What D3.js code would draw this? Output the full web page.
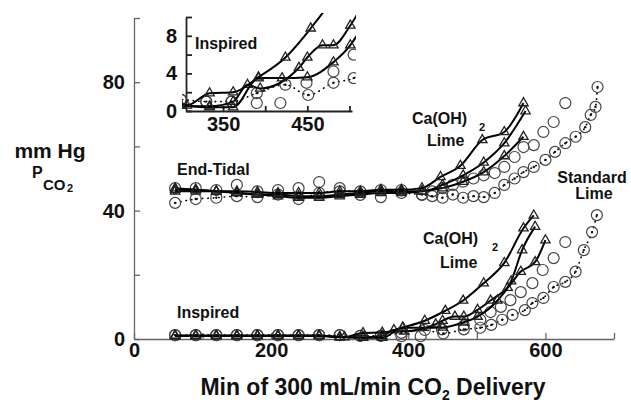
<!DOCTYPE html>
<html>
<head>
  <meta charset="utf-8"/>
  <style>
    body { margin: 0; background: #fff; }
    svg { background-color: #fff; }
    text { font-family: "Liberation Sans", Arial, sans-serif; font-weight: bold; fill: #111; }
  </style>
</head>
<body>
  <div id="chart"></div>
  <script src="https://d3js.org/d3.v7.min.js"></script>
  <script>
    // End-tidal PCO2, Ca(OH)2 lime runs (triangles, solid lines)
    const etCaA_x = [60, 90, 120, 150, 180, 210, 240, 270, 300, 330, 360, 390, 420, 447, 476, 508, 540, 568];
    const etCaA_y = [46.5, 46.5, 46, 46, 45.8, 45.5, 45.5, 45.5, 46, 46, 46.5, 46.5, 47, 50.5, 54, 62, 64.5, 73.5];
    const etCaB_x = [60, 90, 120, 150, 180, 210, 240, 270, 300, 330, 360, 390, 420, 450, 480, 510, 540, 571];
    const etCaB_y = [46, 46, 46, 45.5, 45, 45, 44.5, 44.5, 45, 45.5, 46, 46, 46, 48, 51, 55, 61, 71];
    const etCaC_x = [60, 90, 120, 150, 180, 210, 240, 270, 300, 330, 360, 390, 420, 450, 480, 510, 540, 568];
    const etCaC_y = [47, 46.5, 46, 45.5, 45, 44.5, 44, 44, 44.5, 45, 45.5, 45.5, 46, 47, 49, 52, 57, 63];

    // End-tidal PCO2, standard lime runs (circles)
    const etStdA_x = [60, 90, 120, 150, 180, 210, 240, 270, 300, 330, 360, 390, 420, 435, 450, 465, 480, 495, 510, 526, 540, 555, 568, 583, 597, 612, 629];
    const etStdA_y = [47, 47, 46.4, 48, 46, 46.4, 47, 48.9, 47, 44.9, 44.2, 46.4, 44.9, 46, 47, 48, 49, 50, 51, 51.7, 53.6, 56.7, 59.8, 60.4, 64.5, 67.6, 73.5];
    const etStdB_x = [60, 90, 120, 150, 180, 210, 240, 270, 300, 330, 360, 390, 420, 435, 450, 465, 480, 495, 510, 526, 540, 555, 568, 583, 600, 614, 629, 644, 658, 666, 673, 676];
    const etStdB_y = [42.4, 43.6, 44, 44.5, 44.2, 45, 43.6, 45.5, 46, 46, 46.4, 45.5, 45, 44.5, 44, 45, 44, 44.5, 44.2, 45.5, 48, 50, 52, 53.6, 55.8, 58.3, 61, 63, 66, 69.8, 72.3, 78.5];

    // Inspired PCO2, Ca(OH)2 lime runs
    const inCaA_x = [60, 90, 120, 150, 180, 210, 240, 270, 307, 334, 362, 392, 424, 454, 480, 510, 540, 568, 583];
    const inCaA_y = [1, 1, 1, 1, 1, 1, 1, 1, 0.6, 1.9, 2.0, 3.6, 5.7, 8.8, 12, 17.4, 23.7, 34.5, 38.5];
    const inCaB_x = [60, 90, 120, 150, 180, 210, 240, 270, 300, 334, 362, 392, 420, 450, 481, 501, 530, 550, 566, 585];
    const inCaB_y = [1, 1, 1, 1, 1, 1, 1, 1, 0.6, 0.4, 0.4, 3.5, 3.5, 3.6, 5.2, 7, 12, 18, 27.7, 35];
    const inCaC_x = [60, 90, 120, 150, 180, 210, 240, 270, 300, 334, 362, 379, 394, 440, 450, 468, 481, 501, 520, 545, 564, 585, 600];
    const inCaC_y = [1, 1, 1, 1, 1, 1, 1, 1, 0.6, 0.5, 1.0, 2.8, 2.4, 4.6, 5.7, 7, 7, 9.1, 12, 16, 21, 24, 30.8];

    // Inspired PCO2, standard lime runs
    const inStdA_x = [60, 90, 120, 150, 180, 210, 240, 270, 300, 330, 360, 390, 418, 449, 481, 505, 520, 535, 549, 564, 581, 596, 612, 629];
    const inStdA_y = [1.2, 1.2, 1.2, 1.2, 1.2, 1.2, 1.2, 1.2, 1.2, 1, 1, 0.85, 0.85, 3, 4.2, 6, 8.4, 10, 12.1, 14.6, 17.4, 21.5, 25.2, 30.2];
    const inStdB_x = [60, 90, 120, 150, 180, 210, 240, 270, 300, 330, 360, 390, 424, 451, 481, 505, 521, 537, 552, 570, 581, 597, 612, 629, 644, 656, 668, 675];
    const inStdB_y = [1.2, 1.2, 1.2, 1.2, 1.2, 1.2, 1.2, 1.2, 1.2, 1, 1, 1.9, 2.8, 1.7, 3, 3.5, 4.4, 6, 7.5, 9, 11.2, 12.8, 16.2, 17.8, 21, 27.7, 33.3, 38.6];

    // tick labels
    const xTicks = [0, 100, 200, 300, 400, 500, 600, 700];
    const xLabels = [0, 200, 400, 600];
    const yTicks = [0, 20, 40, 60, 80, 100];
    const yLabels = [0, 40, 80];
    const insetXTicks = [350, 400, 450, 500];
    const insetXLabels = [350, 450];
    const insetYTicks = [0, 2, 4, 6, 8, 10];
    const insetYLabels = [0, 4, 8];

    const width = 631, height = 403;

    let svg = d3.select('#chart')
        .append('svg')
        .attr('width', width)
        .attr('height', height);

    let x = d3.scaleLinear().domain([0, 700]).range([134, 614]);
    let y = d3.scaleLinear().domain([0, 100]).range([339, 18]);

    let xi = d3.scaleLinear().domain([306, 503]).range([186, 352]);
    let yi = d3.scaleLinear().domain([0, 10]).range([111, 17]);

    // main axes
    let gx = svg.append('g')
        .attr('transform', 'translate(0,' + y(0) + ')')
        .call(d3.axisBottom(x).tickValues(xTicks).tickSizeInner(-6).tickSizeOuter(0).tickPadding(4)
            .tickFormat(d => xLabels.includes(d) ? d : ''));
    let gy = svg.append('g')
        .attr('transform', 'translate(' + x(0) + ',0)')
        .call(d3.axisLeft(y).tickValues(yTicks).tickSizeInner(-6).tickSizeOuter(0).tickPadding(9)
            .tickFormat(d => yLabels.includes(d) ? d : ''));
    [gx, gy].forEach(g => {
      g.selectAll('path, line').attr('stroke', '#666').attr('stroke-width', 1.3);
      g.selectAll('text').style('font-size', '20px').attr('fill', '#111');
    });

    // inset axes
    let gix = svg.append('g')
        .attr('transform', 'translate(0,' + yi(0) + ')')
        .call(d3.axisBottom(xi).tickValues(insetXTicks).tickSizeInner(-5).tickSizeOuter(0).tickPadding(6)
            .tickFormat(d => insetXLabels.includes(d) ? d : ''));
    let giy = svg.append('g')
        .attr('transform', 'translate(' + xi.range()[0] + ',0)')
        .call(d3.axisLeft(yi).tickValues(insetYTicks).tickSizeInner(-6).tickSizeOuter(0).tickPadding(9)
            .tickFormat(d => insetYLabels.includes(d) ? d : ''));
    [gix, giy].forEach(g => {
      g.selectAll('path, line').attr('stroke', '#222').attr('stroke-width', 1.8);
      g.selectAll('text').style('font-size', '20px').attr('fill', '#111');
    });

    svg.append('clipPath').attr('id', 'insetClip')
        .append('rect').attr('x', 182).attr('y', 13).attr('width', 174).attr('height', 102);
    svg.append('clipPath').attr('id', 'mainClip')
        .append('rect').attr('x', 130).attr('y', 10).attr('width', 500).attr('height', 335);

    let tri = d3.symbol().type(d3.symbolTriangle).size(38);

    function drawSeries(g, xs, ys, sx, sy, shape, line) {
      let pts = xs.map((v, i) => [v, ys[i]]);
      if (line) {
        let path = d3.line().x(d => sx(d[0])).y(d => sy(d[1])).curve(d3.curveMonotoneX);
        let p = g.append('path')
            .attr('d', path(pts))
            .attr('fill', 'none')
            .attr('stroke', '#000');
        if (line === 'solid') p.attr('stroke-width', 2);
        else p.attr('stroke-width', 1.6).attr('stroke-dasharray', '0.5,5').attr('stroke-linecap', 'round');
      }
      if (shape === 'tri') {
        g.selectAll(null).data(pts).enter().append('path')
            .attr('d', tri)
            .attr('transform', d => 'translate(' + sx(d[0]) + ',' + sy(d[1]) + ')')
            .attr('fill', 'none')
            .attr('stroke', '#222')
            .attr('stroke-width', 1.3);
      } else {
        g.selectAll(null).data(pts).enter().append('circle')
            .attr('cx', d => sx(d[0]))
            .attr('cy', d => sy(d[1]))
            .attr('r', 5.5)
            .attr('fill', 'none')
            .attr('stroke', '#444')
            .attr('stroke-width', 1.2);
        if (shape === 'dotcirc') {
          g.selectAll(null).data(pts).enter().append('circle')
              .attr('cx', d => sx(d[0]))
              .attr('cy', d => sy(d[1]))
              .attr('r', 1.2)
              .attr('fill', '#111');
        }
      }
    }

    let main = svg.append('g').attr('clip-path', 'url(#mainClip)');
    let inset = svg.append('g').attr('clip-path', 'url(#insetClip)');

    // end-tidal
    drawSeries(main, etStdA_x, etStdA_y, x, y, 'circ', null);
    drawSeries(main, etStdB_x, etStdB_y, x, y, 'dotcirc', 'dotted');
    drawSeries(main, etCaC_x, etCaC_y, x, y, 'tri', 'solid');
    drawSeries(main, etCaB_x, etCaB_y, x, y, 'tri', 'solid');
    drawSeries(main, etCaA_x, etCaA_y, x, y, 'tri', 'solid');

    // inspired, main and inset
    [[main, x, y], [inset, xi, yi]].forEach(([g, sx, sy]) => {
      drawSeries(g, inStdA_x, inStdA_y, sx, sy, 'circ', null);
      drawSeries(g, inStdB_x, inStdB_y, sx, sy, 'dotcirc', 'dotted');
      drawSeries(g, inCaC_x, inCaC_y, sx, sy, 'tri', 'solid');
      drawSeries(g, inCaB_x, inCaB_y, sx, sy, 'tri', 'solid');
      drawSeries(g, inCaA_x, inCaA_y, sx, sy, 'tri', 'solid');
    });

    // annotations
    function label(txt, px, py, size, anchor) {
      svg.append('text')
          .attr('x', px).attr('y', py)
          .attr('text-anchor', anchor || 'start')
          .style('font-size', size + 'px')
          .text(txt);
    }
    label('Inspired', 195, 49, 16);
    label('Inspired', 177, 318, 16);
    label('End-Tidal', 177, 175, 16);
    label('Ca(OH)', 412, 124, 16);
    label('2', 479, 131, 11);
    label('Lime', 427, 146, 16);
    label('Standard', 592, 183, 16, 'middle');
    label('Lime', 594, 199, 16, 'middle');
    label('Ca(OH)', 423, 244, 16);
    label('2', 492, 251, 11);
    label('Lime', 440, 268, 16);

    // y title
    label('mm Hg', 50, 158, 21, 'middle');
    label('P', 32, 178, 16);
    label('CO', 43, 190, 15);
    label('2', 67, 192, 11);

    // x title
    let xt = svg.append('text')
        .attr('x', 373).attr('y', 395)
        .attr('text-anchor', 'middle')
        .style('font-size', '23px');
    xt.append('tspan').text('Min of 300 mL/min CO');
    xt.append('tspan').attr('dy', 5).style('font-size', '14px').text('2');
    xt.append('tspan').attr('dy', -5).text(' Delivery');
  </script>
</body>
</html>
